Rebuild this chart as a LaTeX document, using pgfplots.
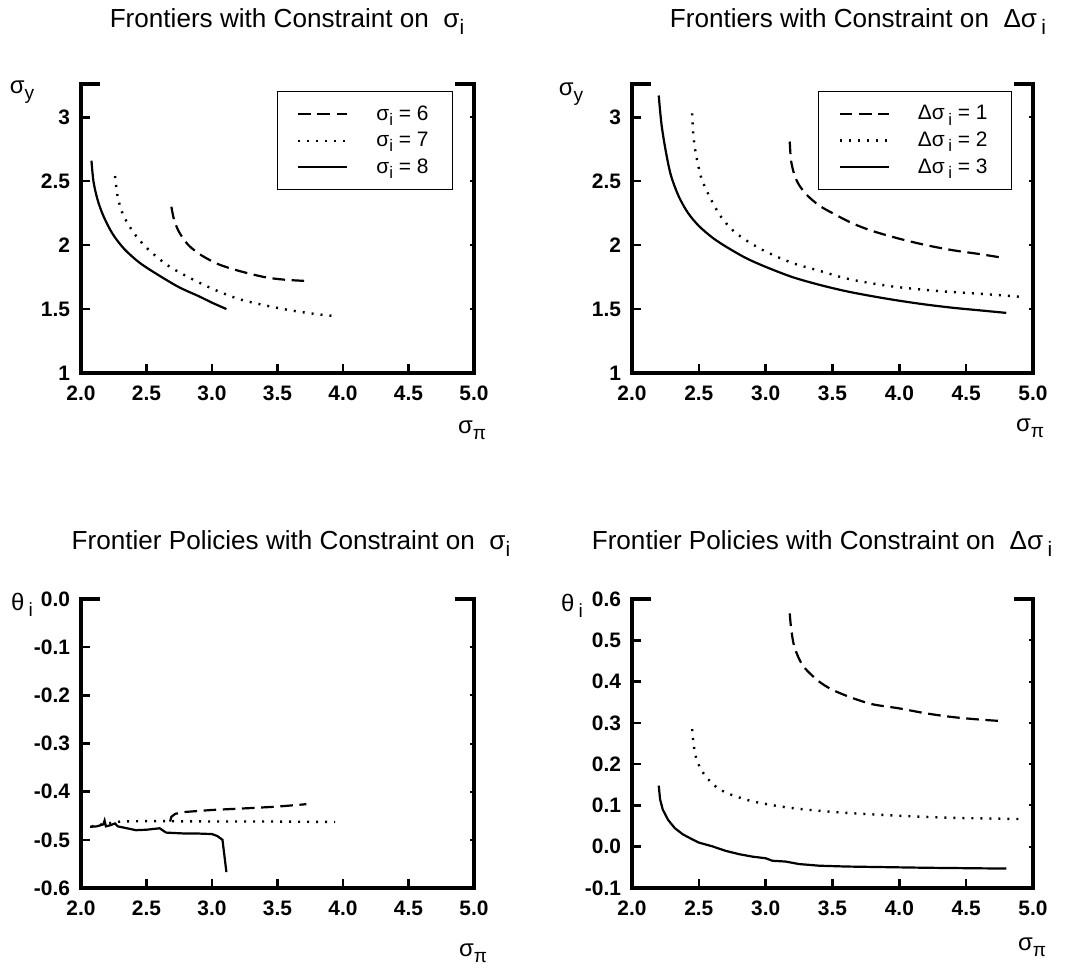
\documentclass[border=0pt]{standalone}
\usepackage{fontspec}
\setmainfont{Liberation Sans}
\usepackage{pgfplots}
\pgfplotsset{compat=1.18}

\newcommand{\sbs}[1]{\raisebox{-0.5ex}{\scalebox{0.8}{#1}}}
\newcommand{\titlefont}{\fontsize{13.1}{15}\selectfont}
\newcommand{\labfont}{\fontsize{12}{14}\selectfont}

% line styles of the three curves
\tikzset{
  cdash/.style={black, line width=1.1bp, dash pattern=on 6.3bp off 3.3bp},
  cdot/.style={black, line width=1.2bp, dash pattern=on 1bp off 3.5bp},
  csolid/.style={black, line width=1.1bp},
  sm/.style={smooth, tension=0.5},
}

\pgfplotsset{
  frontier/.style={
    scale only axis, clip=false,
    axis line style={draw=none},
    tick pos=left, tick align=inside,
    major tick length=4.5bp,
    every tick/.style={black, line width=1.3bp},
    xmin=2, xmax=5,
    xtick={2,2.5,3,3.5,4,4.5,5},
    xticklabels={2.0,2.5,3.0,3.5,4.0,4.5,5.0},
    ticklabel style={font=\bfseries\fontsize{10.5}{11}\selectfont},
    yticklabel style={xshift=-2bp},
    xticklabel style={yshift=-3bp},
    legend cell align=left,
    legend image code/.code={\draw[##1] (0bp,0bp) -- (24.5bp,0bp);},
    legend style={at={(rel axis cs:1,1)}, anchor=north east,
      xshift=-10.5bp, yshift=-3.5bp, draw=black, line width=0.5bp,
      font=\fontsize{10.5}{12}\selectfont, inner xsep=10bp, inner ysep=5bp,
      row sep=0.5bp, column sep=12bp},
  },
  % empty overlay that only draws the small ticks of the right spine
  rticks/.style={
    scale only axis, anchor=south west,
    axis line style={draw=none}, xtick=\empty, yticklabels={},
    ytick pos=right, tick align=inside, major tick length=2bp,
    every tick/.style={black, line width=1bp}, xmin=2, xmax=5,
  },
}

% axis frame: left, bottom and right spine, short caps at the top
\newcommand{\frameaxis}[1]{%
  \draw[line width=1.6bp, line join=miter]
    ([xshift=9.5bp]#1.north west) -- (#1.north west) -- (#1.south west)
    -- (#1.south east) -- (#1.north east) -- ([xshift=-9.5bp]#1.north east);
}

\begin{document}
\begin{tikzpicture}
\path[use as bounding box] (0,0) rectangle (535bp,484bp);

% ---------- top left ----------
\begin{axis}[frontier, name=a1, at={(40.5bp,297.5bp)}, anchor=south west,
  width=196.5bp, height=144.5bp,
  ymin=1, ymax=3.26, ytick={1,1.5,2,2.5,3}, yticklabels={1,1.5,2,2.5,3}]
\addplot[cdash, sm] coordinates {
 (2.69,2.30) (2.71,2.20) (2.75,2.10) (2.82,2.00) (2.92,1.92) (3.05,1.85)
 (3.2,1.80) (3.4,1.75) (3.55,1.73) (3.71,1.72)};
\addplot[cdot, sm] coordinates {
 (2.26,2.54) (2.28,2.38) (2.32,2.24) (2.4,2.10) (2.5,1.98) (2.65,1.85)
 (2.8,1.76) (3.0,1.66) (3.2,1.58) (3.4,1.53) (3.6,1.49) (3.8,1.46) (3.94,1.445)};
\addplot[csolid, sm] coordinates {
 (2.08,2.66) (2.095,2.50) (2.125,2.36) (2.17,2.23) (2.24,2.09) (2.33,1.97)
 (2.45,1.86) (2.6,1.76) (2.75,1.67) (2.9,1.60) (3.0,1.55) (3.11,1.50)};
\legend{σ\sbs{i} = 6, σ\sbs{i} = 7, σ\sbs{i} = 8}
\end{axis}
\begin{axis}[rticks, at={(a1.south west)}, width=196.5bp, height=144.5bp,
  ymin=1, ymax=3.26, ytick={1.5,2,2.5,3}]
\end{axis}
\frameaxis{a1}

% ---------- top right ----------
\begin{axis}[frontier, name=a2, at={(316bp,297.5bp)}, anchor=south west,
  width=200.5bp, height=144.5bp,
  ymin=1, ymax=3.26, ytick={1,1.5,2,2.5,3}, yticklabels={1,1.5,2,2.5,3}]
\addplot[cdash, sm] coordinates {
 (3.18,2.81) (3.19,2.66) (3.215,2.55) (3.25,2.47) (3.31,2.39) (3.4,2.31)
 (3.5,2.25) (3.65,2.17) (3.8,2.11) (4.0,2.05) (4.2,2.00) (4.4,1.96)
 (4.6,1.93) (4.78,1.90)};
\addplot[cdot, sm] coordinates {
 (2.45,3.03) (2.46,2.85) (2.48,2.70) (2.52,2.52) (2.58,2.38) (2.66,2.23)
 (2.75,2.12) (2.85,2.04) (3.0,1.95) (3.2,1.86) (3.4,1.80) (3.6,1.74)
 (3.8,1.70) (4.0,1.67) (4.3,1.64) (4.6,1.62) (4.92,1.595)};
\addplot[csolid, sm] coordinates {
 (2.20,3.17) (2.22,2.95) (2.25,2.75) (2.29,2.55) (2.35,2.38) (2.42,2.25)
 (2.5,2.15) (2.6,2.06) (2.7,1.99) (2.85,1.90) (3.0,1.83) (3.2,1.75)
 (3.4,1.69) (3.6,1.64) (3.8,1.60) (4.0,1.565) (4.2,1.535) (4.4,1.51)
 (4.6,1.49) (4.8,1.47)};
\legend{Δσ\,\sbs{i} = 1, Δσ\,\sbs{i} = 2, Δσ\,\sbs{i} = 3}
\end{axis}
\begin{axis}[rticks, at={(a2.south west)}, width=200.5bp, height=144.5bp,
  ymin=1, ymax=3.26, ytick={1.5,2,2.5,3}]
\end{axis}
\frameaxis{a2}

% ---------- bottom left ----------
\begin{axis}[frontier, name=a3, at={(40.5bp,40bp)}, anchor=south west,
  width=196.5bp, height=144.5bp,
  ymin=-0.6, ymax=0, ytick={-0.6,-0.5,-0.4,-0.3,-0.2,-0.1,0},
  yticklabels={-0.6,-0.5,-0.4,-0.3,-0.2,-0.1,0.0}]
\addplot[cdash] coordinates {
 (2.68,-0.462) (2.69,-0.452) (2.72,-0.446) (2.8,-0.442) (3.0,-0.438)
 (3.3,-0.434) (3.5,-0.431) (3.72,-0.426)};
\addplot[cdot] coordinates {
 (2.08,-0.472) (2.2,-0.466) (2.3,-0.462) (2.5,-0.461) (3.0,-0.462)
 (3.5,-0.462) (3.94,-0.463)};
\addplot[csolid] coordinates {
 (2.07,-0.473) (2.12,-0.472) (2.17,-0.468) (2.18,-0.460) (2.19,-0.472)
 (2.22,-0.470) (2.26,-0.466) (2.28,-0.472) (2.35,-0.476) (2.42,-0.480)
 (2.5,-0.479) (2.6,-0.476) (2.65,-0.485) (2.8,-0.487) (2.9,-0.487)
 (3.0,-0.488) (3.04,-0.492) (3.08,-0.50) (3.11,-0.567)};
\end{axis}
\begin{axis}[rticks, at={(a3.south west)}, width=196.5bp, height=144.5bp,
  ymin=-0.6, ymax=0, ytick={-0.5,-0.4,-0.3,-0.2,-0.1}]
\end{axis}
\frameaxis{a3}

% ---------- bottom right ----------
\begin{axis}[frontier, name=a4, at={(316bp,40bp)}, anchor=south west,
  width=200.5bp, height=144.5bp,
  ymin=-0.1, ymax=0.6, ytick={-0.1,0,0.1,0.2,0.3,0.4,0.5,0.6},
  yticklabels={-0.1,0.0,0.1,0.2,0.3,0.4,0.5,0.6}]
\addplot[cdash, sm] coordinates {
 (3.18,0.565) (3.19,0.53) (3.21,0.49) (3.25,0.455) (3.3,0.43) (3.4,0.40)
 (3.5,0.38) (3.65,0.36) (3.8,0.345) (4.0,0.335) (4.2,0.323) (4.4,0.314)
 (4.6,0.308) (4.78,0.304)};
\addplot[cdot, sm] coordinates {
 (2.45,0.285) (2.46,0.25) (2.48,0.215) (2.52,0.185) (2.58,0.16) (2.65,0.14)
 (2.75,0.125) (2.9,0.11) (3.1,0.098) (3.3,0.09) (3.6,0.082) (4.0,0.075)
 (4.4,0.07) (4.92,0.067)};
\addplot[csolid] coordinates {
 (2.20,0.148) (2.21,0.115) (2.23,0.09) (2.27,0.065) (2.32,0.045) (2.38,0.03)
 (2.45,0.018) (2.5,0.01) (2.6,0.001) (2.7,-0.01) (2.8,-0.018) (2.9,-0.024)
 (3.0,-0.028) (3.05,-0.034) (3.15,-0.036) (3.25,-0.042) (3.4,-0.046)
 (3.6,-0.048) (3.8,-0.049) (4.2,-0.051) (4.8,-0.053)};
\end{axis}
\begin{axis}[rticks, at={(a4.south west)}, width=200.5bp, height=144.5bp,
  ymin=-0.1, ymax=0.6, ytick={0,0.1,0.2,0.3,0.4,0.5}]
\end{axis}
\frameaxis{a4}

% titles
\node[font=\titlefont, anchor=base] at (143.5bp,470bp) {Frontiers with Constraint on \ σ\sbs{i}};
\node[font=\titlefont, anchor=base] at (429bp,470bp) {Frontiers with Constraint on \ Δσ\,\sbs{i}};
\node[font=\titlefont, anchor=base] at (145.5bp,209bp) {Frontier Policies with Constraint on \ σ\sbs{i}};
\node[font=\titlefont, anchor=base] at (411bp,209bp) {Frontier Policies with Constraint on \ Δσ\,\sbs{i}};

% axis labels
\node[font=\labfont] at (11bp,438bp) {σ\sbs{y}};
\node[font=\labfont] at (285.5bp,437bp) {σ\sbs{y}};
\node[font=\labfont] at (11bp,181.5bp) {θ\,\sbs{i}};
\node[font=\labfont] at (286bp,181bp) {θ\,\sbs{i}};
\node[font=\labfont] at (236bp,269bp) {σ\sbs{π}};
\node[font=\labfont] at (515bp,270bp) {σ\sbs{π}};
\node[font=\labfont] at (236.5bp,7.5bp) {σ\sbs{π}};
\node[font=\labfont] at (516bp,10.5bp) {σ\sbs{π}};
\end{tikzpicture}
\end{document}
